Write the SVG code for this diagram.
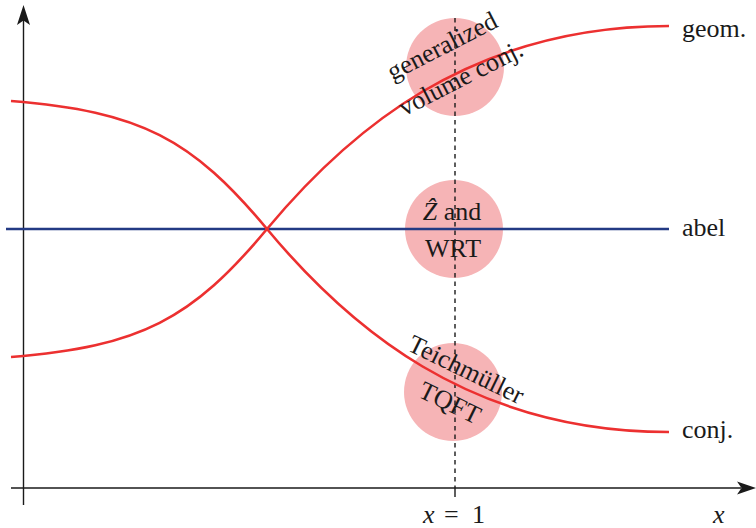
<svg xmlns="http://www.w3.org/2000/svg" width="756" height="528" viewBox="0 0 756 528">
<style>
.t{font-family:"Liberation Serif","Times New Roman",serif;font-size:26px;fill:#1a1a1a}
.m{font-style:italic}
.c{fill:#f6b4b6;stroke:none}
.red{fill:none;stroke:#ec3030;stroke-width:2.6}
.blue{fill:none;stroke:#233a84;stroke-width:2.7}
.ax{fill:none;stroke:#1a1a1a;stroke-width:1.4}
.ah{fill:#1a1a1a;stroke:none}
</style>
<rect width="756" height="528" fill="#fff"/>
<g id="circles">
<circle id="c-top" class="c" cx="455" cy="67" r="49"/>
<circle id="c-mid" class="c" cx="454" cy="229" r="49"/>
<circle id="c-bot" class="c" cx="453" cy="392" r="49"/>
</g>
<g id="connectors">
<line class="ax" x1="23.5" y1="505" x2="23.5" y2="20"/>
<path class="ah" d="M23.5,5 L30,25 L23.5,20.5 L17,25 Z"/>
<line class="ax" x1="11" y1="488" x2="741" y2="488"/>
<path class="ah" d="M756,488 L737,494.5 L741.5,488 L737,481.5 Z"/>
<line class="ax" x1="455" y1="18" x2="455" y2="488" stroke-dasharray="4.5,4" stroke-width="1.2"/>
<line class="ax" x1="455" y1="488" x2="455" y2="497" stroke-width="1.2"/>
<path class="blue" d="M6,229 H669"/>
<path class="red" d="M11,101 C141,111.4 192,139 267,229 C347,325 468,432 669,432"/>
<path class="red" d="M11,357 C141,346.6 192,319 267,229 C347,133 468,26 669,26"/>
</g>
<g id="n-top">
<g transform="rotate(-27 455 67)">
<text class="t" x="453" y="51" text-anchor="middle">generalized</text>
<text class="t" x="455" y="88" text-anchor="middle">volume conj.</text>
</g>
</g>
<g id="n-mid">
<text class="t" x="452" y="220" text-anchor="middle"><tspan class="m">Ẑ</tspan> and</text>
<text class="t" x="453" y="257" text-anchor="middle">WRT</text>
</g>
<g id="n-bot">
<g transform="rotate(26 453 392)">
<text class="t" x="455" y="374.5" text-anchor="middle">Teichmüller</text>
<text class="t" x="455" y="411.5" text-anchor="middle">TQFT</text>
</g>
</g>
<g id="n-geom"><text class="t" x="682" y="36.5">geom.</text></g>
<g id="n-abel"><text class="t" x="682" y="236">abel</text></g>
<g id="n-conj"><text class="t" x="682" y="437.5">conj.</text></g>
<g id="n-x1"><text class="t" y="523"><tspan class="m" x="423">x</tspan><tspan x="444">=</tspan><tspan x="472">1</tspan></text></g>
<g id="n-x"><text class="t m" x="713" y="523">x</text></g>
</svg>
